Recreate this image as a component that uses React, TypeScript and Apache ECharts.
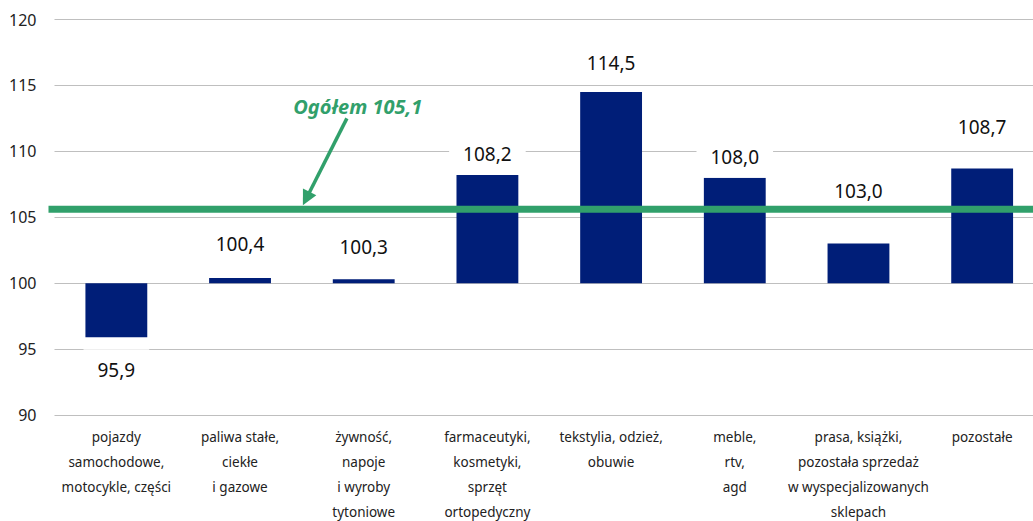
import React, { useEffect, useRef } from "react";
import * as echarts from "echarts";

const categories = [
  "pojazdy\nsamochodowe,\nmotocykle, części",
  "paliwa stałe,\nciekłe\ni gazowe",
  "żywność,\nnapoje\ni wyroby\ntytoniowe",
  "farmaceutyki,\nkosmetyki,\nsprzęt\nortopedyczny",
  "tekstylia, odzież,\nobuwie",
  "meble,\nrtv,\nagd",
  "prasa, książki,\npozostała sprzedaż\nw wyspecjalizowanych\nsklepach",
  "pozostałe",
];
const values = [95.9, 100.4, 100.3, 108.2, 114.5, 108.0, 103.0, 108.7];
const baseline = 100;
// drawn position of the "Ogółem" line as it appears in the picture
const overallLineLevel = 105.6;
const overallLabel = "Ogółem 105,1";
// pixel offsets of value labels from bar ends (as placed in the original)
const labelOffsets = [33, -34, -32, -21, -29, -21, -53, -41];

const FONT = "'Noto Sans', 'Open Sans', sans-serif";
const BAR = "#001e78";
const GREEN = "#31a06b";
const fmt = (v: number) => v.toFixed(1).replace(".", ",");

export default function App() {
  const ref = useRef<HTMLDivElement>(null);
  useEffect(() => {
    if (!ref.current) return;
    document.body.style.margin = "0";
    document.body.style.overflow = "hidden";
    const chart = echarts.init(ref.current, undefined, { renderer: "svg" });
    chart.setOption({
      animation: false,
      grid: {
        left: 54.5,
        right: 0,
        top: 19.5,
        bottom: 106,
        containLabel: false,
        outerBoundsMode: "none",
      },
      xAxis: {
        type: "category",
        data: categories,
        axisLine: { show: false },
        axisTick: { show: false },
        axisLabel: {
          interval: 0,
          fontFamily: FONT,
          fontSize: 13.5,
          lineHeight: 25,
          color: "#222",
          margin: 9,
        },
      },
      yAxis: {
        type: "value",
        min: 90,
        max: 120,
        interval: 5,
        axisLine: { show: false },
        axisTick: { show: false },
        axisLabel: { fontFamily: FONT, fontSize: 16, color: "#222", margin: 18 },
        splitLine: { lineStyle: { color: "#bfbfbf", width: 1 } },
      },
      series: [
        {
          type: "custom",
          z: 2,
          encode: { x: 0, y: 1 },
          data: values.map((v, i) => [i, v]),
          renderItem: (params: any, api: any) => {
            const i = api.value(0);
            const v = api.value(1);
            const top = api.coord([i, v]);
            const base = api.coord([i, baseline]);
            const w = api.size([1, 0])[0] * 0.5;
            const y0 = Math.min(top[1], base[1]);
            const h = Math.abs(top[1] - base[1]);
            const off = labelOffsets[params.dataIndex];
            return {
              type: "group",
              children: [
                {
                  type: "rect",
                  shape: { x: top[0] - w / 2, y: y0, width: w, height: h },
                  style: { fill: BAR },
                },
                {
                  type: "text",
                  z2: 10,
                  style: {
                    text: fmt(v),
                    x: top[0],
                    y: top[1] + off,
                    align: "center",
                    verticalAlign: "middle",
                    fontFamily: FONT,
                    fontSize: 19,
                    lineHeight: 20,
                    fill: "#111",
                    backgroundColor: "#fff",
                    padding: [11, 14],
                  },
                },
              ],
            };
          },
        },
        {
          type: "custom",
          z: 5,
          encode: { x: 0, y: 1 },
          data: [[0, overallLineLevel]],
          renderItem: (params: any, api: any) => {
            const cs = params.coordSys;
            const y = api.coord([0, api.value(1)])[1];
            const band = api.size([1, 0])[0];
            const x0 = cs.x;
            const tip = [x0 + band * 2 + 1, y - 4];
            const start = [x0 + band * 2 + 45, y - 91];
            const dx = tip[0] - start[0];
            const dy = tip[1] - start[1];
            const len = Math.sqrt(dx * dx + dy * dy);
            const ux = dx / len, uy = dy / len;
            const hl = 15, hw = 7.5;
            const bx = tip[0] - ux * hl, by = tip[1] - uy * hl;
            const px = -uy, py = ux;
            return {
              type: "group",
              children: [
                {
                  type: "line",
                  shape: { x1: x0 - 6, y1: y, x2: cs.x + cs.width, y2: y },
                  style: { stroke: GREEN, lineWidth: 7 },
                },
                {
                  type: "line",
                  shape: { x1: start[0], y1: start[1], x2: bx + ux * 2, y2: by + uy * 2 },
                  style: { stroke: GREEN, lineWidth: 3.5 },
                },
                {
                  type: "polygon",
                  shape: {
                    points: [
                      tip,
                      [bx + px * hw, by + py * hw],
                      [bx - px * hw, by - py * hw],
                    ],
                  },
                  style: { fill: GREEN },
                },
                {
                  type: "text",
                  style: {
                    text: overallLabel,
                    x: x0 + band * 2.5 - 6,
                    y: y - 103,
                    align: "center",
                    verticalAlign: "middle",
                    fontFamily: FONT,
                    fontSize: 20,
                    fontWeight: "bold",
                    fontStyle: "italic",
                    fill: GREEN,
                  },
                },
              ],
            };
          },
        },
      ],
    });
    return () => chart.dispose();
  }, []);
  return (
    <div
      style={{ position: "absolute", left: 0, top: 0, width: 1033, height: 521, background: "#fff", overflow: "hidden" }}
    >
      <div ref={ref} style={{ width: 1044, height: 521 }} />
    </div>
  );
}
